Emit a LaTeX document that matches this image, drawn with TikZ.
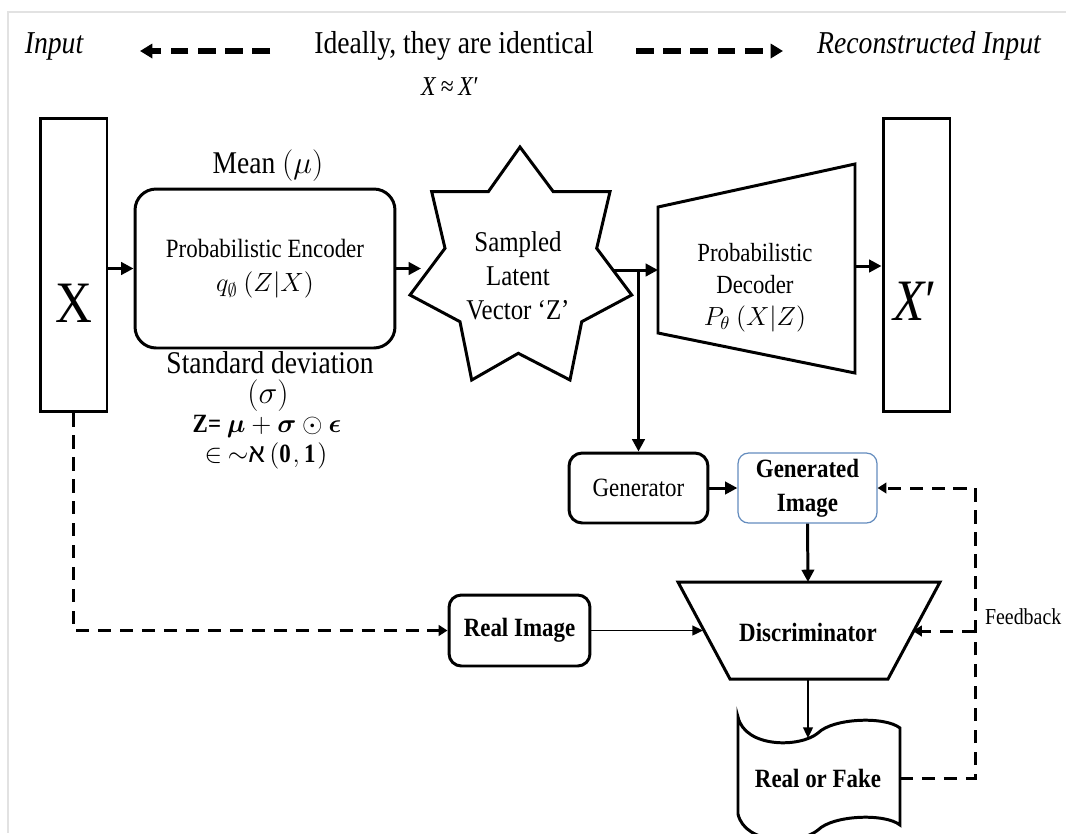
\RequirePackage{fix-cm}
\documentclass[tikz,border=0pt]{standalone}
\usepackage{fontspec}
\usepackage{bm}
\setmainfont{Liberation Serif}[FakeStretch=0.87]
\newfontfamily\hebfont[Script=Hebrew]{Liberation Sans}
\TeXXeTstate=1
\usetikzlibrary{arrows.meta,calc}
\definecolor{gblue}{RGB}{100,140,190}
\definecolor{framegray}{RGB}{226,226,226}
\newcommand\fTop{\fontsize{18.1}{22}\selectfont}
\newcommand\fApprox{\fontsize{15.5}{18}\selectfont}
\newcommand\fMid{\fontsize{18}{21}\selectfont}
\newcommand\fEnc{\fontsize{15}{19.3}\selectfont}
\newcommand\fStar{\fontsize{16.3}{19.3}\selectfont}
\newcommand\fDec{\fontsize{14.9}{18.2}\selectfont}
\newcommand\fBody{\fontsize{15}{19.3}\selectfont}
\newcommand\fFb{\fontsize{13}{16}\selectfont}
\newcommand\fBig{\fontsize{33.4}{40}\selectfont}
\newcommand\fForm{\fontsize{15}{18}\selectfont}
\tikzset{
  box/.style={draw, line width=1.7pt, inner sep=0pt},
  shapeline/.style={line width=1.7pt, line join=miter},
  arr/.style={line width=1.7pt, -{Triangle[length=7pt,width=7pt]}},
  thinarr/.style={line width=1.1pt, -{Triangle[length=6pt,width=5.5pt]}},
  dsh/.style={line width=1.7pt, dash pattern=on 7.5pt off 5pt},
  dsharr/.style={dsh, -{Triangle[length=5pt,width=6pt]}},
  toparr/.style={line width=3.6pt, dash pattern=on 10pt off 5.5pt, -{Triangle[length=7pt,width=8pt]}},
}
\begin{document}
\begin{tikzpicture}[x=0.02cm,y=-0.02cm]
\useasboundingbox (0,0) rectangle (1066,833);
\clip (0,0) rectangle (1066,833);
\draw[framegray, line width=1.2pt] (8,833) -- (8,12) -- (1066,12);

% top row
\node[font=\fTop\itshape, anchor=base] (inp) at (54,53) {Input};
\node[font=\fTop, anchor=base] (ideal) at (454,53) {Ideally, they are identical};
\node[font=\fApprox, anchor=base] (approx) at (450,95) {\textit{X}\,≈\,\textit{X}′};
\node[font=\fTop\itshape, anchor=base] (rec) at (929,53) {Reconstructed Input};
\coordinate (la1) at (270,51); \coordinate (la2) at (140,51);
\coordinate (ra1) at (636,51); \coordinate (ra2) at (783,51);
\draw[toparr] (la1) -- (la2);
\draw[toparr] (ra1) -- (ra2);

% input / output boxes
\node[box, minimum width=1.34cm, minimum height=5.88cm] (X) at (73.5,265) {};
\node[font=\fBig, anchor=base] (Xt) at (73.5,322) {X};
\node[box, minimum width=1.34cm, minimum height=5.88cm] (Xp) at (916.5,265) {};
\node[font=\fBig, anchor=base] (Xpt) at (915,320) {\textit{X}′};

% encoder
\node[box, rounded corners=12pt, minimum width=5.2cm, minimum height=3.18cm,
      align=center, font=\fEnc] (enc) at (265,268.5)
      {Probabilistic Encoder\\$q_{\emptyset}\ (Z|X)$};
\node[font=\fMid, anchor=base] (mean) at (268,173) {Mean $(\mu)$};
\node[font=\fMid, anchor=base] (sd) at (270,373) {Standard deviation};
\node[font=\fMid, anchor=base] (sig) at (268,403) {$(\sigma)$};
\node[font=\fForm, anchor=base] (f1) at (267,432)
      {\textbf{Z=} $\bm{\mu}+\bm{\sigma}\odot\bm{\epsilon}$};
\node[font=\fForm, anchor=base] (f2) at (266,462)
      {$\in\ \sim${\hebfont\beginR א\endR}\,$(\mathbf{0},\mathbf{1})$};

% star
\draw[shapeline] (520,147) -- (553.3,191.7) -- (610,191.7) -- (596.7,248.3)
  -- (631.7,295) -- (581.7,321.7) -- (570,380) -- (518.3,353.3) -- (471.7,380)
  -- (460,321.7) -- (410,295) -- (445,248.3) -- (431.7,191.7) -- (488.3,191.7) -- cycle;
\node[font=\fStar, align=center] (Z) at (518,276) {Sampled\\Latent\\Vector ‘Z’};
\coordinate (zin) at (421,268.5);
\coordinate (zout) at (613,270);
\coordinate (br) at (638.5,270);

% decoder
\draw[shapeline] (658,207) -- (855,164) -- (855,373) -- (658,333) -- cycle;
\node[font=\fDec, align=center] (dec) at (755,288)
      {Probabilistic\\Decoder\\$P_{\theta}\ (X|Z)$};
\coordinate (decin) at (658,270);
\coordinate (decout) at (855,266);

% GAN part
\node[box, rounded corners=7.5pt, minimum width=2.78cm, minimum height=1.4cm,
      font=\fBody] (gen) at (638.5,488) {Generator};
\node[draw=gblue, line width=0.7pt, rounded corners=6pt, minimum width=2.78cm,
      minimum height=1.4cm, inner sep=0pt, font=\fBody\bfseries, align=center]
      (gimg) at (807.5,488) {Generated\\Image};
\node[box, rounded corners=7pt, minimum width=2.82cm, minimum height=1.42cm,
      font=\fBody\bfseries] (real) at (519.5,630.5) {Real Image};

\draw[shapeline] (678,582) -- (940,582) -- (888,679) -- (730,679) -- cycle;
\node[font=\fBody\bfseries] (disc) at (808,632) {Discriminator};
\coordinate (dtop) at (808,582);
\coordinate (dleft) at (703,630.5);
\coordinate (dright) at (913,631);
\coordinate (dbot) at (808,679);

\draw[shapeline] (738,717) .. controls (745,748) and (800,748) .. (818,733)
  .. controls (833,718) and (885,716) .. (900,728) -- (900,825)
  .. controls (885,813) and (833,815) .. (818,830)
  .. controls (800,845) and (745,845) .. (738,814) -- cycle;
\node[font=\fBody\bfseries] (rof) at (818,778) {Real or Fake};
\coordinate (rtop) at (808,738);
\coordinate (rright) at (900,778);
\coordinate (fbc) at (975,778);
\node[font=\fFb, anchor=west, inner sep=1pt] (fbl) at (983,617) {Feedback};

% connectors
\draw[arr] (X.east |- enc.west) -- (enc.west);
\draw[arr] (enc.east) -- (zin);
\draw[arr] (zout) -- (decin);
\draw[arr] (br) -- (gen.north);
\draw[arr] (decout) -- (decout -| Xp.west);
\draw[arr] (gen.east) -- (gimg.west);
\draw[arr] (gimg.south) -- (dtop);
\draw[thinarr] (real.east) -- (dleft);
\draw[thinarr] (dbot) -- (rtop);
\draw[dsharr] (X.south) |- (real.west);
\draw[dsharr] (rright) -- (fbc) |- (gimg.east);
\draw[dsharr] (fbc |- dright) -- (dright);
\end{tikzpicture}
\end{document}
